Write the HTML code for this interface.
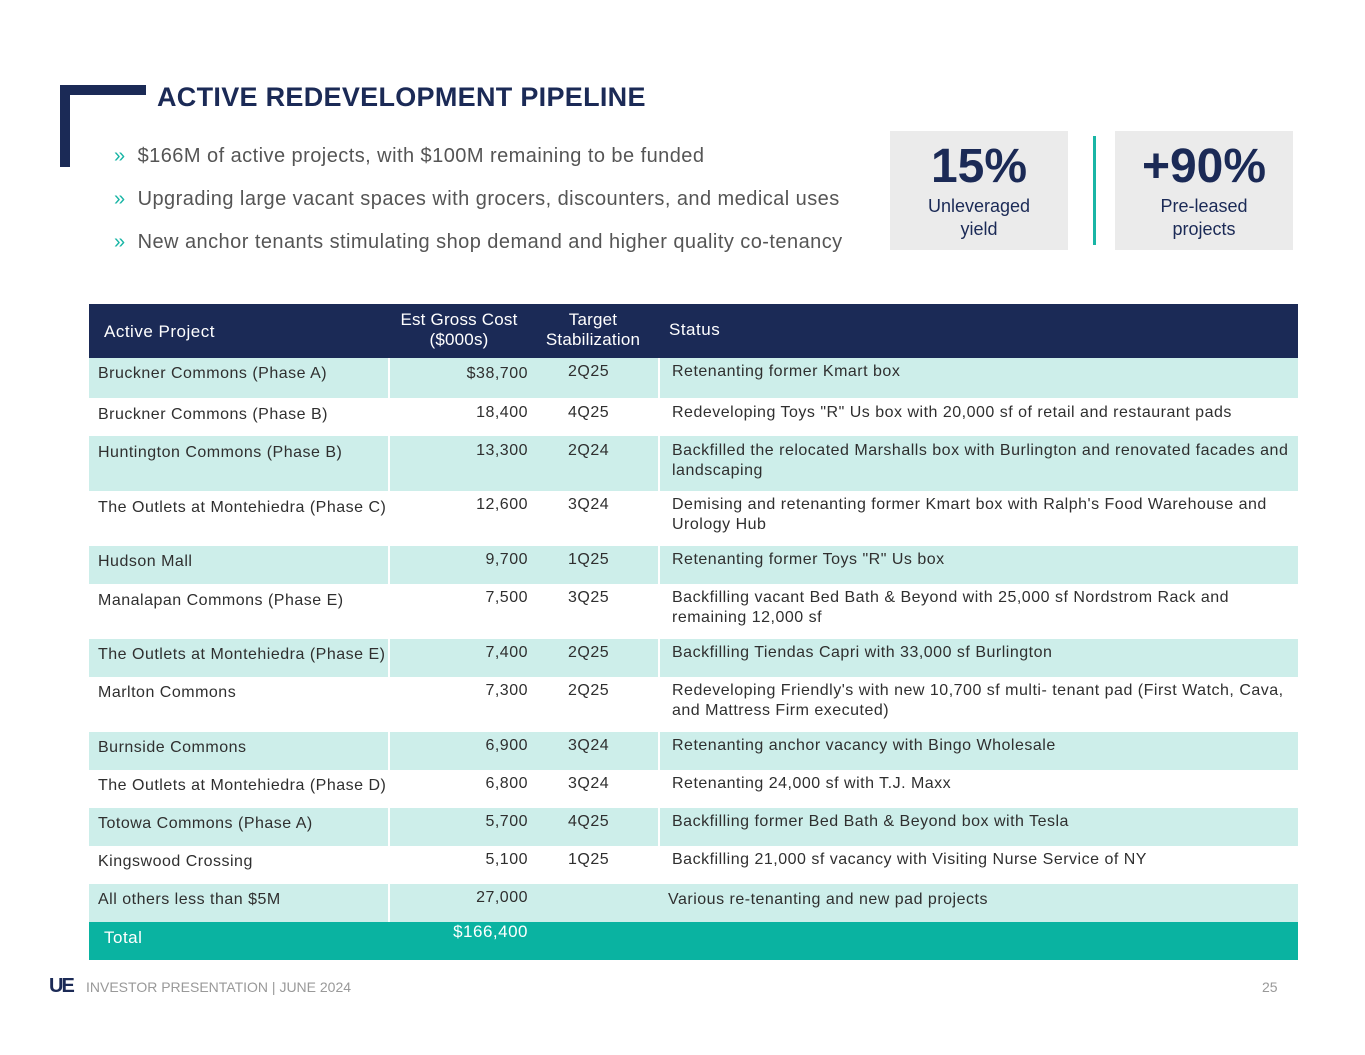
<!DOCTYPE html>
<html><head><style>
*{margin:0;padding:0;box-sizing:border-box}
body{width:1365px;height:1055px;background:#fff;position:relative;overflow:hidden;font-family:"Liberation Sans",sans-serif;color:#333}
.a{position:absolute}
.t{position:absolute;font-size:16px;line-height:20px;color:#2f2f2f;white-space:nowrap;letter-spacing:0.5px}
.r{position:absolute;left:89px;width:1209px}
.c{background:#cdeeea}
.sep{position:absolute;width:2px;background:#fff}
.b{position:absolute;left:114px;font-size:20px;line-height:24px;color:#555;letter-spacing:0.45px}
</style></head><body>
<div class="a" style="left:60px;top:85px;width:10px;height:82px;background:#1b2a56"></div>
<div class="a" style="left:60px;top:85px;width:86px;height:10px;background:#1b2a56"></div>
<div class="a" style="left:157px;top:82px;font-size:27px;font-weight:bold;color:#1b2a56;letter-spacing:0.3px">ACTIVE REDEVELOPMENT PIPELINE</div>
<div class="b" style="top:144px"><span style="color:#19b5a5">»</span>&nbsp;&nbsp;$166M of active projects, with $100M remaining to be funded</div>
<div class="b" style="top:187px"><span style="color:#19b5a5">»</span>&nbsp;&nbsp;Upgrading large vacant spaces with grocers, discounters, and medical uses</div>
<div class="b" style="top:230px"><span style="color:#19b5a5">»</span>&nbsp;&nbsp;New anchor tenants stimulating shop demand and higher quality co-tenancy</div>

<div class="a" style="left:890px;top:131px;width:178px;height:119px;background:#ebebeb;text-align:center">
<div style="font-size:48px;font-weight:bold;color:#1b2a56;margin-top:8px;line-height:56px">15%</div>
<div style="font-size:18px;line-height:23px;color:#1b2a56">Unleveraged<br>yield</div></div>
<div class="a" style="left:1093px;top:136px;width:3px;height:109px;background:#19b5a5"></div>
<div class="a" style="left:1115px;top:131px;width:178px;height:119px;background:#ebebeb;text-align:center">
<div style="font-size:48px;font-weight:bold;color:#1b2a56;margin-top:8px;line-height:56px">+90%</div>
<div style="font-size:18px;line-height:23px;color:#1b2a56">Pre-leased<br>projects</div></div>

<div class="r" style="top:304px;height:54px;background:#1b2a56"></div>
<div class="t" style="left:104px;top:322px;color:#fff;font-size:17px">Active Project</div>
<div class="t" style="left:389px;width:140px;top:310px;color:#fff;text-align:center;font-size:17px;letter-spacing:0.2px">Est Gross Cost<br>($000s)</div>
<div class="t" style="left:540px;width:106px;top:310px;color:#fff;text-align:center;font-size:17px;letter-spacing:0.2px">Target<br>Stabilization</div>
<div class="t" style="left:669px;top:320px;color:#fff;font-size:17px">Status</div>

<div class="r c" style="top:358px;height:40px"></div>
<div class="r c" style="top:436px;height:55px"></div>
<div class="r c" style="top:546px;height:38px"></div>
<div class="r c" style="top:639px;height:38px"></div>
<div class="r c" style="top:732px;height:38px"></div>
<div class="r c" style="top:808px;height:38px"></div>
<div class="r c" style="top:884px;height:38px"></div>
<div class="r" style="top:922px;height:38px;background:#0ab3a1"></div>
<div class="sep" style="left:388px;top:358px;height:564px"></div>
<div class="sep" style="left:658px;top:358px;height:526px"></div>

<div class="t" style="left:98px;top:364px">Bruckner Commons (Phase A)</div><div class="t" style="left:389px;width:139px;top:364px;text-align:right">$38,700</div><div class="t" style="left:568px;top:362px">2Q25</div><div class="t" style="left:672px;top:362px">Retenanting former Kmart box</div>
<div class="t" style="left:98px;top:405px">Bruckner Commons (Phase B)</div><div class="t" style="left:389px;width:139px;top:403px;text-align:right">18,400</div><div class="t" style="left:568px;top:403px">4Q25</div><div class="t" style="left:672px;top:403px">Redeveloping Toys "R" Us box with 20,000 sf of retail and restaurant pads</div>
<div class="t" style="left:98px;top:443px">Huntington Commons (Phase B)</div><div class="t" style="left:389px;width:139px;top:441px;text-align:right">13,300</div><div class="t" style="left:568px;top:441px">2Q24</div><div class="t" style="left:672px;top:441px">Backfilled the relocated Marshalls box with Burlington and renovated facades and<br>landscaping</div>
<div class="t" style="left:98px;top:498px">The Outlets at Montehiedra (Phase C)</div><div class="t" style="left:389px;width:139px;top:495px;text-align:right">12,600</div><div class="t" style="left:568px;top:495px">3Q24</div><div class="t" style="left:672px;top:495px">Demising and retenanting former Kmart box with Ralph's Food Warehouse and<br>Urology Hub</div>
<div class="t" style="left:98px;top:552px">Hudson Mall</div><div class="t" style="left:389px;width:139px;top:550px;text-align:right">9,700</div><div class="t" style="left:568px;top:550px">1Q25</div><div class="t" style="left:672px;top:550px">Retenanting former Toys "R" Us box</div>
<div class="t" style="left:98px;top:591px">Manalapan Commons (Phase E)</div><div class="t" style="left:389px;width:139px;top:588px;text-align:right">7,500</div><div class="t" style="left:568px;top:588px">3Q25</div><div class="t" style="left:672px;top:588px">Backfilling vacant Bed Bath &amp; Beyond with 25,000 sf Nordstrom Rack and<br>remaining 12,000 sf</div>
<div class="t" style="left:98px;top:645px">The Outlets at Montehiedra (Phase E)</div><div class="t" style="left:389px;width:139px;top:643px;text-align:right">7,400</div><div class="t" style="left:568px;top:643px">2Q25</div><div class="t" style="left:672px;top:643px">Backfilling Tiendas Capri with 33,000 sf Burlington</div>
<div class="t" style="left:98px;top:683px">Marlton Commons</div><div class="t" style="left:389px;width:139px;top:681px;text-align:right">7,300</div><div class="t" style="left:568px;top:681px">2Q25</div><div class="t" style="left:672px;top:681px">Redeveloping Friendly's with new 10,700 sf multi- tenant pad (First Watch, Cava,<br>and Mattress Firm executed)</div>
<div class="t" style="left:98px;top:738px">Burnside Commons</div><div class="t" style="left:389px;width:139px;top:736px;text-align:right">6,900</div><div class="t" style="left:568px;top:736px">3Q24</div><div class="t" style="left:672px;top:736px">Retenanting anchor vacancy with Bingo Wholesale</div>
<div class="t" style="left:98px;top:776px">The Outlets at Montehiedra (Phase D)</div><div class="t" style="left:389px;width:139px;top:774px;text-align:right">6,800</div><div class="t" style="left:568px;top:774px">3Q24</div><div class="t" style="left:672px;top:774px">Retenanting 24,000 sf with T.J. Maxx</div>
<div class="t" style="left:98px;top:814px">Totowa Commons (Phase A)</div><div class="t" style="left:389px;width:139px;top:812px;text-align:right">5,700</div><div class="t" style="left:568px;top:812px">4Q25</div><div class="t" style="left:672px;top:812px">Backfilling former Bed Bath &amp; Beyond box with Tesla</div>
<div class="t" style="left:98px;top:852px">Kingswood Crossing</div><div class="t" style="left:389px;width:139px;top:850px;text-align:right">5,100</div><div class="t" style="left:568px;top:850px">1Q25</div><div class="t" style="left:672px;top:850px">Backfilling 21,000 sf vacancy with Visiting Nurse Service of NY</div>
<div class="t" style="left:98px;top:890px">All others less than $5M</div><div class="t" style="left:389px;width:139px;top:888px;text-align:right">27,000</div><div class="t" style="left:668px;top:890px">Various re-tenanting and new pad projects</div>
<div class="t" style="left:104px;top:928px;color:#fff;font-size:17px">Total</div><div class="t" style="left:389px;width:139px;top:922px;text-align:right;color:#fff;font-size:17px">$166,400</div>

<div class="a" style="left:49px;top:975px;font-size:20px;font-weight:bold;color:#1b2a56;letter-spacing:-2px;line-height:22px">UE</div>
<div class="a" style="left:86px;top:979px;font-size:14px;color:#999">INVESTOR PRESENTATION | JUNE 2024</div>
<div class="a" style="left:1262px;top:979px;font-size:14px;color:#999">25</div>
</body></html>
